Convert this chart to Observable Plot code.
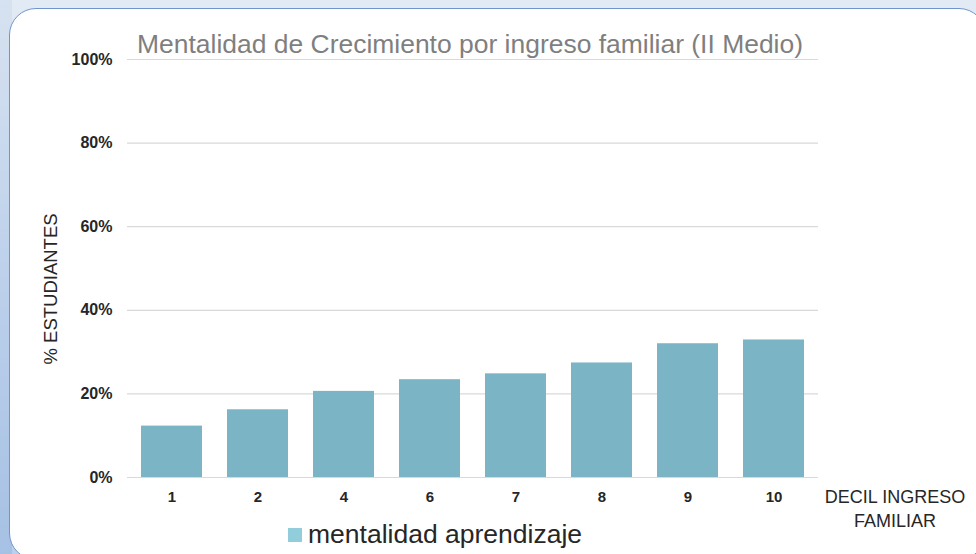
<!DOCTYPE html>
<html>
<head>
<meta charset="utf-8">
<script src="https://cdn.jsdelivr.net/npm/d3@7"></script>
<script src="https://cdn.jsdelivr.net/npm/@observablehq/plot@0.6"></script>
<style>
  html, body { margin: 0; padding: 0; }
  body {
    width: 976px; height: 554px; overflow: hidden;
    background: linear-gradient(to bottom, #e2eaf4 0%, #d3e0ef 60%, #bcd0ea 100%);
    font-family: "Liberation Sans", Arial, sans-serif;
  }
  #wrap { position: relative; width: 976px; height: 554px; overflow: hidden; }
  #leftshade { position: absolute; left: 0; top: 0; width: 12px; height: 554px;
    background: linear-gradient(to bottom, #d6e2f0 0%, #b8cdea 60%, #a6c1e4 100%); }
  #panel { position: absolute; left: 9px; top: 8px; width: 977px; height: 552px;
    background: #ffffff; border: 1.5px solid #6f95cc; border-radius: 27px; box-sizing: border-box; }
  #chart { position: absolute; left: 0; top: 0; }
  #overlay { position: absolute; left: 0; top: 0; }
</style>
</head>
<body>
<div id="wrap">
  <div id="leftshade"></div>
  <div id="panel"></div>
  <div id="chart"></div>
  <svg id="overlay" width="976" height="554"></svg>
</div>
<script>
const deciles = ["1", "2", "4", "6", "7", "8", "9", "10"];
const values = [0.123, 0.162, 0.206, 0.234, 0.248, 0.274, 0.320, 0.329];
const yTicks = [0, 0.2, 0.4, 0.6, 0.8, 1.0];
const titleText = "Mentalidad de Crecimiento por ingreso familiar (II Medio)";
const yTitle = "% ESTUDIANTES";
const xTitleLines = ["DECIL INGRESO", "FAMILIAR"];
const seriesName = "mentalidad aprendizaje";

const data = deciles.map((d, i) => ({decil: d, value: values[i]}));

const chart = Plot.plot({
  width: 976,
  height: 554,
  marginLeft: 127,
  marginRight: 158,
  marginTop: 59,
  marginBottom: 77,
  style: {fontFamily: "'Liberation Sans', Arial, sans-serif", color: "#262626", background: "transparent"},
  x: {domain: deciles, paddingInner: 0.29, paddingOuter: 0.145},
  y: {domain: [0, 1]},
  marks: [
    Plot.ruleY(yTicks, {stroke: "#d9d9d9", strokeWidth: 1.2}),
    Plot.barY(data, {x: "decil", y: "value", fill: "#7bb4c5"}),
    Plot.axisY({ticks: yTicks, tickSize: 0, tickPadding: 15, tickFormat: d3.format(".0%"),
      fontWeight: "bold", fontSize: 16, label: null}),
    Plot.axisX({tickSize: 0, tickPadding: 14, fontWeight: "bold", fontSize: 15, label: null})
  ]
});
document.getElementById("chart").appendChild(chart);

const ov = d3.select("#overlay");
const ff = "'Liberation Sans', Arial, sans-serif";
ov.append("text").attr("x", 137).attr("y", 53)
  .attr("font-size", 26).attr("fill", "#7f7f7f").attr("font-family", ff)
  .attr("textLength", 666).attr("lengthAdjust", "spacingAndGlyphs")
  .text(titleText);
ov.append("text").attr("transform", "translate(57,289) rotate(-90)").attr("text-anchor", "middle")
  .attr("font-size", 18.5).attr("fill", "#262626").attr("font-family", ff)
  .text(yTitle);
xTitleLines.forEach((t, i) => {
  ov.append("text").attr("x", 895).attr("y", 503 + i * 24).attr("text-anchor", "middle")
    .attr("font-size", 18).attr("fill", "#262626").attr("font-family", ff)
    .text(t);
});
ov.append("rect").attr("x", 288).attr("y", 528).attr("width", 14).attr("height", 14).attr("fill", "#92cddc");
ov.append("text").attr("x", 308).attr("y", 543)
  .attr("font-size", 26.5).attr("fill", "#262626").attr("font-family", ff)
  .text(seriesName);
</script>
</body>
</html>
